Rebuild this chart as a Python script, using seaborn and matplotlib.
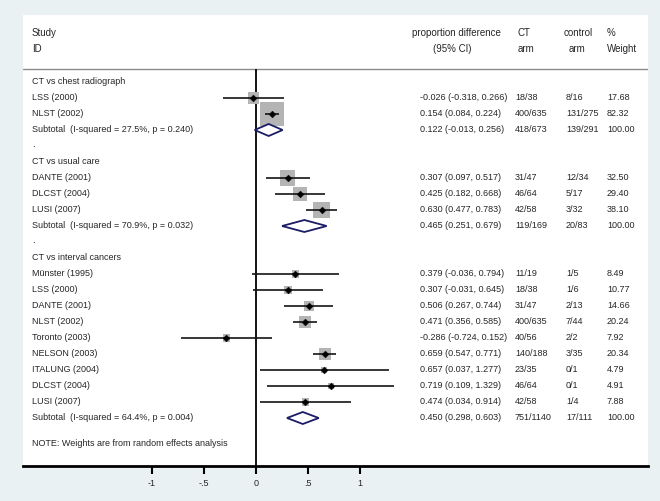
import numpy as np
import pandas as pd
import matplotlib
matplotlib.use("Agg")
import matplotlib.pyplot as plt
from matplotlib.patches import Polygon
import seaborn as sns

# ---------------- data ----------------
group_titles = ["CT vs chest radiograph", "CT vs usual care", "CT vs interval cancers"]

g1_studies = ["LSS (2000)", "NLST (2002)"]
g1_est = [-0.026, 0.154]
g1_lo = [-0.318, 0.084]
g1_hi = [0.266, 0.224]
g1_ct = ["18/38", "400/635"]
g1_ctrl = ["8/16", "131/275"]
g1_wt = [17.68, 82.32]
g1_sub = ["Subtotal  (I-squared = 27.5%, p = 0.240)", 0.122, -0.013, 0.256, "418/673", "139/291", 100.00]

g2_studies = ["DANTE (2001)", "DLCST (2004)", "LUSI (2007)"]
g2_est = [0.307, 0.425, 0.630]
g2_lo = [0.097, 0.182, 0.477]
g2_hi = [0.517, 0.668, 0.783]
g2_ct = ["31/47", "46/64", "42/58"]
g2_ctrl = ["12/34", "5/17", "3/32"]
g2_wt = [32.50, 29.40, 38.10]
g2_sub = ["Subtotal  (I-squared = 70.9%, p = 0.032)", 0.465, 0.251, 0.679, "119/169", "20/83", 100.00]

g3_studies = ["Münster (1995)", "LSS (2000)", "DANTE (2001)", "NLST (2002)", "Toronto (2003)",
              "NELSON (2003)", "ITALUNG (2004)", "DLCST (2004)", "LUSI (2007)"]
g3_est = [0.379, 0.307, 0.506, 0.471, -0.286, 0.659, 0.657, 0.719, 0.474]
g3_lo = [-0.036, -0.031, 0.267, 0.356, -0.724, 0.547, 0.037, 0.109, 0.034]
g3_hi = [0.794, 0.645, 0.744, 0.585, 0.152, 0.771, 1.277, 1.329, 0.914]
g3_ct = ["11/19", "18/38", "31/47", "400/635", "40/56", "140/188", "23/35", "46/64", "42/58"]
g3_ctrl = ["1/5", "1/6", "2/13", "7/44", "2/2", "3/35", "0/1", "0/1", "1/4"]
g3_wt = [8.49, 10.77, 14.66, 20.24, 7.92, 20.34, 4.79, 4.91, 7.88]
g3_sub = ["Subtotal  (I-squared = 64.4%, p = 0.004)", 0.450, 0.298, 0.603, "751/1140", "17/111", 100.00]

x_ticks = [-1, -0.5, 0, 0.5, 1]
x_tick_labels = ["-1", "-.5", "0", ".5", "1"]
note = "NOTE: Weights are from random effects analysis"

# ---------------- build tables ----------------
groups = [
    (g1_studies, g1_est, g1_lo, g1_hi, g1_ct, g1_ctrl, g1_wt, g1_sub),
    (g2_studies, g2_est, g2_lo, g2_hi, g2_ct, g2_ctrl, g2_wt, g2_sub),
    (g3_studies, g3_est, g3_lo, g3_hi, g3_ct, g3_ctrl, g3_wt, g3_sub),
]
study_rows, sub_rows, title_rows, dot_rows = [], [], [], []
row = 0
for gi, (names, est, lo, hi, ct, ctrl, wt, sub) in enumerate(groups):
    title_rows.append((row, group_titles[gi]))
    row += 1
    for i in range(len(names)):
        study_rows.append(dict(row=row, name=names[i], est=est[i], lo=lo[i], hi=hi[i],
                               ct=ct[i], ctrl=ctrl[i], wt=wt[i]))
        row += 1
    sub_rows.append(dict(row=row, name=sub[0], est=sub[1], lo=sub[2], hi=sub[3],
                         ct=sub[4], ctrl=sub[5], wt=sub[6]))
    row += 1
    if gi < len(groups) - 1:
        dot_rows.append(row)
        row += 1
studies = pd.DataFrame(study_rows)
subs = pd.DataFrame(sub_rows)

# ---------------- figure ----------------
sns.set_theme(style="white")
plt.rcParams["font.family"] = ["Liberation Sans", "DejaVu Sans"]
FS = 6.5      # body text
FH = 7.0      # header text

W, H = 660, 501
fig = plt.figure(figsize=(W / 100, H / 100), dpi=100, facecolor="#e9f1f3")
left_px, right_px, top_px, bot_px = 23, 648, 15, 466
ax = fig.add_axes([left_px / W, (H - bot_px) / H, (right_px - left_px) / W, (bot_px - top_px) / H])
ax.set_facecolor("white")

x0_px, ppu = 256, 104.0       # pixel of x=0, pixels per unit
y0_px, ppr = 82, 16.0         # pixel of row 0, pixels per row
px2x = lambda p: (p - x0_px) / ppu
py2r = lambda p: (p - y0_px) / ppr

ax.set_xlim(px2x(left_px), px2x(right_px))
ax.set_ylim(py2r(bot_px), py2r(top_px))

# header
ax.text(px2x(32), py2r(33), "Study", fontsize=FH, va="center", ha="left")
ax.text(px2x(32), py2r(49), "ID", fontsize=FH, va="center", ha="left")
ax.text(px2x(456), py2r(33), "proportion difference", fontsize=FH, va="center", ha="center")
ax.text(px2x(452), py2r(49), "(95% CI)", fontsize=FH, va="center", ha="center")
ax.text(px2x(518), py2r(33), "CT", fontsize=FH, va="center", ha="left")
ax.text(px2x(518), py2r(49), "arm", fontsize=FH, va="center", ha="left")
ax.text(px2x(564), py2r(33), "control", fontsize=FH, va="center", ha="left")
ax.text(px2x(569), py2r(49), "arm", fontsize=FH, va="center", ha="left")
ax.text(px2x(607), py2r(33), "%", fontsize=FH, va="center", ha="left")
ax.text(px2x(607), py2r(49), "Weight", fontsize=FH, va="center", ha="left")
ax.axhline(py2r(69), color="#8a8a8a", lw=1.0)

# null line
ax.vlines(0, py2r(69), py2r(bot_px), color="black", lw=1.3, zorder=2)

# group titles and dots
for r, t in title_rows:
    ax.text(px2x(32), r, t, fontsize=FS, va="center", ha="left")
for r in dot_rows:
    ax.text(px2x(32), r - 0.1, ".", fontsize=FS, va="center", ha="left")

# studies
k = 2.65  # px per sqrt(weight)
sides_pt = k * np.sqrt(studies["wt"].values) * 0.72
ax.scatter(studies["est"], studies["row"], s=sides_pt ** 2, marker="s",
           color="#b4b4b4", edgecolor="none", zorder=3)
ax.hlines(studies["row"], studies["lo"], studies["hi"], color="#151515", lw=1.2, zorder=4)
sns.scatterplot(data=studies, x="est", y="row", marker="D", s=12, color="black",
                edgecolor="black", linewidth=0.3, ax=ax, zorder=5, legend=False)

# subtotals
h = 6 / ppr
for _, s in subs.iterrows():
    poly = Polygon([(s.lo, s.row), (s.est, s.row - h), (s.hi, s.row), (s.est, s.row + h)],
                   closed=True, facecolor="white", edgecolor="#1b1b66", lw=1.3, zorder=5)
    ax.add_patch(poly)

# text columns
allrows = pd.concat([studies, subs])
for _, s in allrows.iterrows():
    ax.text(px2x(32), s.row, s["name"], fontsize=FS, va="center", ha="left")
    ax.text(px2x(420), s.row, f"{s.est:.3f} ({s.lo:.3f}, {s.hi:.3f})", fontsize=FS, va="center", ha="left")
    ax.text(px2x(515), s.row, s.ct, fontsize=FS, va="center", ha="left")
    ax.text(px2x(566), s.row, s.ctrl, fontsize=FS, va="center", ha="left")
    ax.text(px2x(607), s.row, f"{s.wt:.2f}", fontsize=FS, va="center", ha="left")

ax.text(px2x(32), py2r(443), note, fontsize=FS, va="center", ha="left")

# axes styling
for sp in ["top", "left", "right"]:
    ax.spines[sp].set_visible(False)
ax.spines["bottom"].set_linewidth(2.0)
ax.spines["bottom"].set_color("black")
ax.set_yticks([])
ax.set_xticks(x_ticks)
ax.set_xticklabels(x_tick_labels, fontsize=FS)
ax.tick_params(axis="x", direction="out", length=6, width=1.5, color="black", pad=3, bottom=True)
ax.set_xlabel("")
ax.set_ylabel("")

fig.savefig("out.png", dpi=100, facecolor=fig.get_facecolor())
